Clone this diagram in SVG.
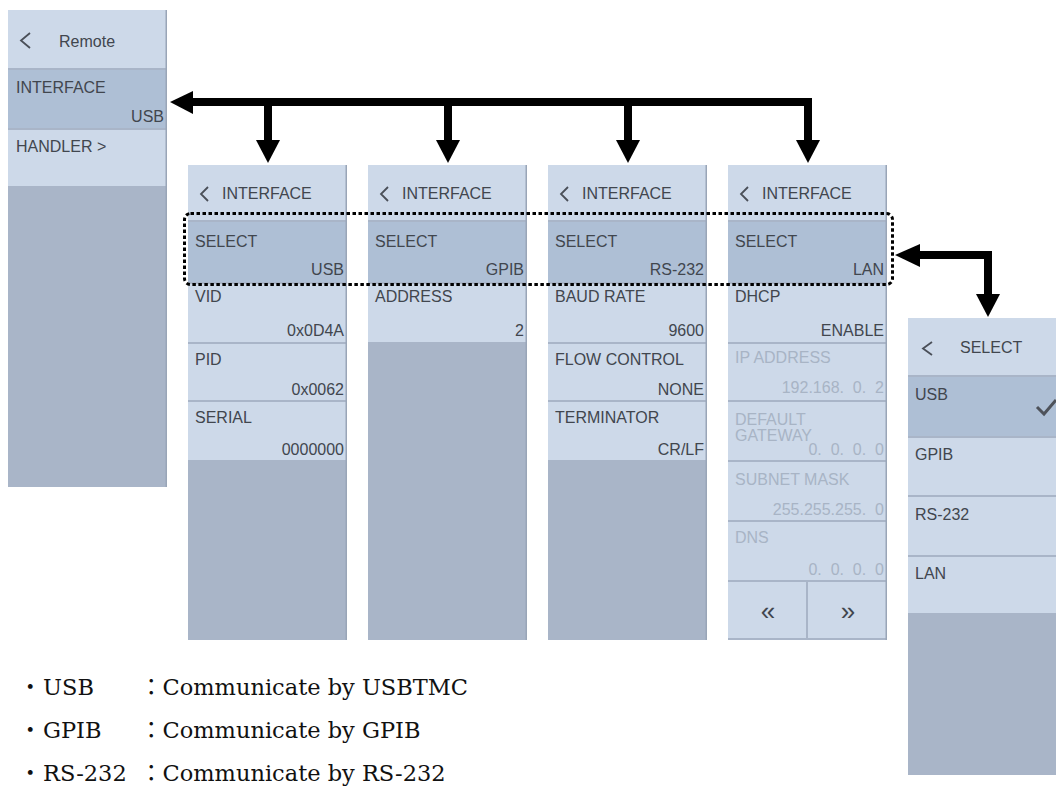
<svg xmlns="http://www.w3.org/2000/svg" width="1056" height="790" viewBox="0 0 1056 790">
<defs>
<style>
.bg{fill:#a9b5c8}
.row{fill:#cdd9e9}
.sel{fill:#aebfd5}
.edge{fill:#99a5b7}
.t{font-family:"Liberation Sans",Arial,sans-serif;font-size:16px;fill:#41464e}
.r{text-anchor:end}
.dim{fill:#a8b4c5}
.nav{font-family:"Liberation Sans",Arial,sans-serif;font-size:26px;fill:#41464e;text-anchor:middle}
.chev{fill:none;stroke:#4a4f58;stroke-width:1.8}
.bt{font-family:"DejaVu Serif","Noto Sans CJK JP",serif;font-size:22.5px;fill:#111}
.arr{fill:none;stroke:#000;stroke-width:8}
.head{fill:#000}
</style>
</defs>
<rect width="1056" height="790" fill="#fff"/>

<g id="remote-panel">
<rect class="bg" x="8" y="10" width="159" height="477"/>
<rect class="row" x="8" y="10" width="158" height="58"/>
<rect class="sel" x="8" y="70" width="158" height="58"/>
<rect class="row" x="8" y="130" width="158" height="56"/>
<rect class="edge" x="165.5" y="10" width="1.5" height="477"/>
<polyline class="chev" points="30,33 21,40.5 30,48"/>
<text class="t" x="59" y="47">Remote</text>
<text class="t" x="16" y="93">INTERFACE</text>
<text class="t r" x="164" y="122">USB</text>
<text class="t" x="16" y="152">HANDLER &gt;</text>
</g>

<g id="usb-panel">
<rect class="bg" x="188" y="165" width="159" height="475"/>
<rect class="row" x="188" y="165" width="158" height="55"/>
<rect class="sel" x="188" y="222" width="158" height="60"/>
<rect class="row" x="188" y="284" width="158" height="58"/>
<rect class="row" x="188" y="344" width="158" height="56"/>
<rect class="row" x="188" y="402" width="158" height="58"/>
<rect class="edge" x="345.5" y="165" width="1.5" height="475"/>
<polyline class="chev" points="208,187 201,194 208,201"/>
<text class="t" x="222" y="199">INTERFACE</text>
<text class="t" x="195" y="247">SELECT</text>
<text class="t r" x="344" y="275">USB</text>
<text class="t" x="195" y="302">VID</text>
<text class="t r" x="344" y="336">0x0D4A</text>
<text class="t" x="195" y="365">PID</text>
<text class="t r" x="344" y="395">0x0062</text>
<text class="t" x="195" y="423">SERIAL</text>
<text class="t r" x="344" y="455">0000000</text>
</g>

<g id="gpib-panel">
<rect class="bg" x="368" y="165" width="159" height="475"/>
<rect class="row" x="368" y="165" width="158" height="55"/>
<rect class="sel" x="368" y="222" width="158" height="60"/>
<rect class="row" x="368" y="284" width="158" height="58"/>
<rect class="edge" x="525.5" y="165" width="1.5" height="475"/>
<polyline class="chev" points="388,187 381,194 388,201"/>
<text class="t" x="402" y="199">INTERFACE</text>
<text class="t" x="375" y="247">SELECT</text>
<text class="t r" x="524" y="275">GPIB</text>
<text class="t" x="375" y="302">ADDRESS</text>
<text class="t r" x="524" y="336">2</text>
</g>

<g id="rs232-panel">
<rect class="bg" x="548" y="165" width="159" height="475"/>
<rect class="row" x="548" y="165" width="158" height="55"/>
<rect class="sel" x="548" y="222" width="158" height="60"/>
<rect class="row" x="548" y="284" width="158" height="58"/>
<rect class="row" x="548" y="344" width="158" height="56"/>
<rect class="row" x="548" y="402" width="158" height="58"/>
<rect class="edge" x="705.5" y="165" width="1.5" height="475"/>
<polyline class="chev" points="568,187 561,194 568,201"/>
<text class="t" x="582" y="199">INTERFACE</text>
<text class="t" x="555" y="247">SELECT</text>
<text class="t r" x="704" y="275">RS-232</text>
<text class="t" x="555" y="302">BAUD RATE</text>
<text class="t r" x="704" y="336">9600</text>
<text class="t" x="555" y="365">FLOW CONTROL</text>
<text class="t r" x="704" y="395">NONE</text>
<text class="t" x="555" y="423">TERMINATOR</text>
<text class="t r" x="704" y="455">CR/LF</text>
</g>

<g id="lan-panel">
<rect class="bg" x="728" y="165" width="159" height="475"/>
<rect class="row" x="728" y="165" width="158" height="55"/>
<rect class="sel" x="728" y="222" width="158" height="60"/>
<rect class="row" x="728" y="284" width="158" height="58"/>
<rect class="row" x="728" y="344" width="158" height="56"/>
<rect class="row" x="728" y="402" width="158" height="58"/>
<rect class="row" x="728" y="462" width="158" height="58"/>
<rect class="row" x="728" y="522" width="158" height="58"/>
<rect class="row" x="728" y="582" width="78" height="56"/>
<rect class="row" x="808" y="582" width="78" height="56"/>
<rect class="edge" x="885.5" y="165" width="1.5" height="475"/>
<polyline class="chev" points="748,187 741,194 748,201"/>
<text class="t" x="762" y="199">INTERFACE</text>
<text class="t" x="735" y="247">SELECT</text>
<text class="t r" x="884" y="275">LAN</text>
<text class="t" x="735" y="302">DHCP</text>
<text class="t r" x="884" y="336">ENABLE</text>
<text class="t dim" x="735" y="363">IP ADDRESS</text>
<text class="t r dim" x="884" y="393" xml:space="preserve">192.168.  0.  2</text>
<text class="t dim" x="735" y="425">DEFAULT</text>
<text class="t dim" x="735" y="441">GATEWAY</text>
<text class="t r dim" x="884" y="455" xml:space="preserve">0.  0.  0.  0</text>
<text class="t dim" x="735" y="485">SUBNET MASK</text>
<text class="t r dim" x="884" y="515" xml:space="preserve">255.255.255.  0</text>
<text class="t dim" x="735" y="543">DNS</text>
<text class="t r dim" x="884" y="575" xml:space="preserve">0.  0.  0.  0</text>
<text class="nav" x="768" y="620">«</text>
<text class="nav" x="848" y="620">»</text>
</g>

<g id="select-panel">
<rect class="bg" x="908" y="318" width="148" height="457"/>
<rect class="row" x="908" y="318" width="148" height="57"/>
<rect class="sel" x="908" y="377" width="148" height="59"/>
<rect class="row" x="908" y="438" width="148" height="57"/>
<rect class="row" x="908" y="497" width="148" height="58"/>
<rect class="row" x="908" y="557" width="148" height="56"/>
<polyline class="chev" points="932,342 923,348.5 932,355"/>
<text class="t" x="960" y="353">SELECT</text>
<text class="t" x="915" y="400">USB</text>
<polyline points="1037,407 1044,414 1056,400" fill="none" stroke="#4e525a" stroke-width="3"/>
<text class="t" x="915" y="460">GPIB</text>
<text class="t" x="915" y="520">RS-232</text>
<text class="t" x="915" y="579">LAN</text>
</g>

<g id="connectors">
<rect x="184.5" y="213.5" width="708" height="71" rx="6" fill="none" stroke="#000" stroke-width="3" stroke-dasharray="3.5 2.5"/>
<path class="arr" d="M190,102 H808 V141"/>
<path class="arr" d="M268,102 V141 M448,102 V141 M628,102 V141"/>
<polygon class="head" points="170,102 193,91 193,114"/>
<polygon class="head" points="256,140 280,140 268,163"/>
<polygon class="head" points="436,140 460,140 448,163"/>
<polygon class="head" points="616,140 640,140 628,163"/>
<polygon class="head" points="796,140 820,140 808,163"/>
<path class="arr" d="M918,255 H988 V295"/>
<polygon class="head" points="895,255 920,244 920,267"/>
<polygon class="head" points="976,294 1000,294 988,317"/>
</g>

<g id="notes">
<text class="bt" x="19" y="695">・</text>
<text class="bt" x="43" y="695">USB</text>
<text class="bt" x="140" y="695">：Communicate by USBTMC</text>
<text class="bt" x="19" y="738">・</text>
<text class="bt" x="43" y="738">GPIB</text>
<text class="bt" x="140" y="738">：Communicate by GPIB</text>
<text class="bt" x="19" y="781">・</text>
<text class="bt" x="43" y="781">RS-232</text>
<text class="bt" x="140" y="781">：Communicate by RS-232</text>
</g>
</svg>
